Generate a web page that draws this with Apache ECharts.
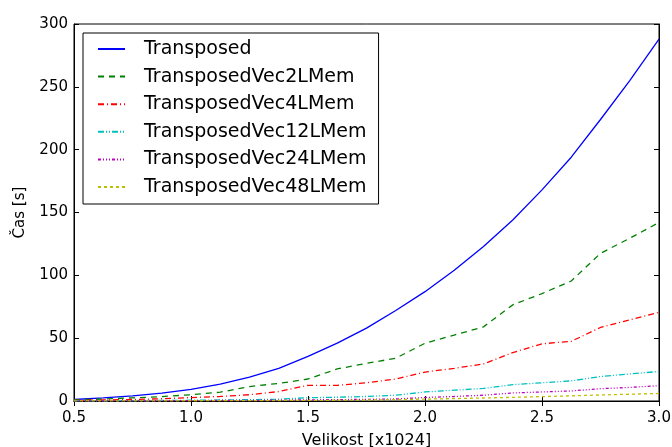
<!DOCTYPE html>
<html>
<head>
<meta charset="utf-8">
<script src="https://cdn.jsdelivr.net/npm/echarts@6/dist/echarts.min.js"></script>
<style>
  html, body { margin: 0; padding: 0; background: #fff; }
  #chart { width: 672px; height: 447px; }
</style>
</head>
<body>
<div id="chart"></div>
<script>
// Matrix size in multiples of 1024
const sizes = [0.5, 0.625, 0.75, 0.875, 1.0, 1.125, 1.25, 1.375, 1.5, 1.625, 1.75,
               1.875, 2.0, 2.125, 2.25, 2.375, 2.5, 2.625, 2.75, 2.875, 3.0];

// Run times in seconds
const transposed     = [1.2, 2.5, 4, 6.2, 9.3, 13.5, 19, 26, 35.5, 46, 58, 72, 87, 104, 123, 144, 168, 194, 224, 255, 288];
const transposedVec2 = [1, 1.5, 2.5, 3.5, 5, 7, 11.5, 14, 17.5, 25.5, 30, 34, 46, 52.5, 59, 76.5, 85.5, 95.5, 117.5, 129.5, 142];
const transposedVec4 = [0.5, 0.8, 1.2, 1.8, 2.7, 3.6, 5, 7.5, 12.5, 12.5, 14.5, 17.5, 23, 26, 29.5, 38.5, 45.5, 47.5, 58.5, 64.5, 70.5];
const transposedVec12 = [0.1, 0.2, 0.3, 0.45, 0.6, 0.8, 1.1, 1.4, 2.6, 3.0, 3.6, 4.6, 7.2, 8.6, 10, 13, 14.5, 16, 19.5, 21.5, 23.5];
const transposedVec24 = [0.05, 0.1, 0.15, 0.2, 0.3, 0.4, 0.5, 0.7, 0.9, 1.1, 1.3, 1.6, 2.8, 3.6, 4.6, 6.4, 7.2, 8, 9.8, 10.8, 12.2];
const transposedVec48 = [0.03, 0.05, 0.08, 0.12, 0.2, 0.25, 0.3, 0.4, 0.5, 0.6, 0.8, 1.1, 1.5, 1.9, 2.4, 2.9, 3.5, 4.1, 4.8, 5.4, 6];

const seriesNames = ['Transposed', 'TransposedVec2LMem', 'TransposedVec4LMem',
                     'TransposedVec12LMem', 'TransposedVec24LMem', 'TransposedVec48LMem'];
const seriesValues = [transposed, transposedVec2, transposedVec4,
                      transposedVec12, transposedVec24, transposedVec48];

const colors = ['#0000ff', '#008000', '#ff0000', '#00bfbf', '#bf00bf', '#bfbf00'];
const dashes = ['solid', [6, 5], [6, 3, 1, 3], [6, 2, 1, 2, 1, 2], [3, 2, 1, 2, 1, 2, 1, 2], [3, 3]];

const FONT = 'DejaVu Sans';

const chart = echarts.init(document.getElementById('chart'), null, { renderer: 'canvas' });

const tickStyle = { show: true, inside: true, length: 5, lineStyle: { color: '#000', width: 1 } };

chart.setOption({
  animation: false,
  backgroundColor: '#fff',
  textStyle: { fontFamily: FONT },
  grid: {
    left: 74, top: 24, right: 13, bottom: 46,
    containLabel: false,
    outerBoundsMode: 'none',
    show: true, borderColor: '#000', borderWidth: 1, backgroundColor: 'transparent'
  },
  legend: {
    left: 83, top: 33,
    orient: 'vertical',
    data: seriesNames,
    itemWidth: 27, itemHeight: 14,
    itemGap: 7.6,
    padding: [6, 12, 7, 14],
    borderColor: '#000', borderWidth: 1,
    backgroundColor: '#fff',
    itemStyle: { opacity: 0 },
    textStyle: { fontFamily: FONT, fontSize: 19, color: '#000', lineHeight: 20, padding: [0, 0, 0, 14] }
  },
  xAxis: [{
    type: 'value', min: 0.5, max: 3.0, interval: 0.5,
    name: 'Velikost [x1024]', nameLocation: 'middle', nameGap: 32,
    nameTextStyle: { fontFamily: FONT, fontSize: 16, color: '#000' },
    axisLine: { show: true, lineStyle: { color: '#000' } },
    axisTick: tickStyle,
    splitLine: { show: false },
    axisLabel: { fontFamily: FONT, fontSize: 15, color: '#000', margin: 10,
                 formatter: v => v.toFixed(1) }
  }, {
    type: 'value', position: 'top', min: 0.5, max: 3.0, interval: 0.5,
    axisLine: { show: true, lineStyle: { color: '#000' } },
    axisTick: tickStyle, axisLabel: { show: false }, splitLine: { show: false }
  }],
  yAxis: [{
    type: 'value', min: 0, max: 300, interval: 50,
    name: 'Čas [s]', nameLocation: 'middle', nameGap: 46, nameRotate: 90,
    nameTextStyle: { fontFamily: FONT, fontSize: 15, color: '#000' },
    axisLine: { show: true, lineStyle: { color: '#000' } },
    axisTick: tickStyle,
    splitLine: { show: false },
    axisLabel: { fontFamily: FONT, fontSize: 15, color: '#000', margin: 6 }
  }, {
    type: 'value', position: 'right', min: 0, max: 300, interval: 50,
    axisLine: { show: true, lineStyle: { color: '#000' } },
    axisTick: tickStyle, axisLabel: { show: false }, splitLine: { show: false }
  }],
  series: seriesNames.map((name, i) => ({
    name: name,
    type: 'line',
    xAxisIndex: 0, yAxisIndex: 0,
    data: sizes.map((x, j) => [x, seriesValues[i][j]]),
    symbol: 'none',
    showSymbol: false,
    clip: true,
    lineStyle: { color: colors[i], width: 1.3, type: dashes[i] },
    itemStyle: { color: colors[i] },
    emphasis: { disabled: true }
  }))
});
</script>
</body>
</html>
